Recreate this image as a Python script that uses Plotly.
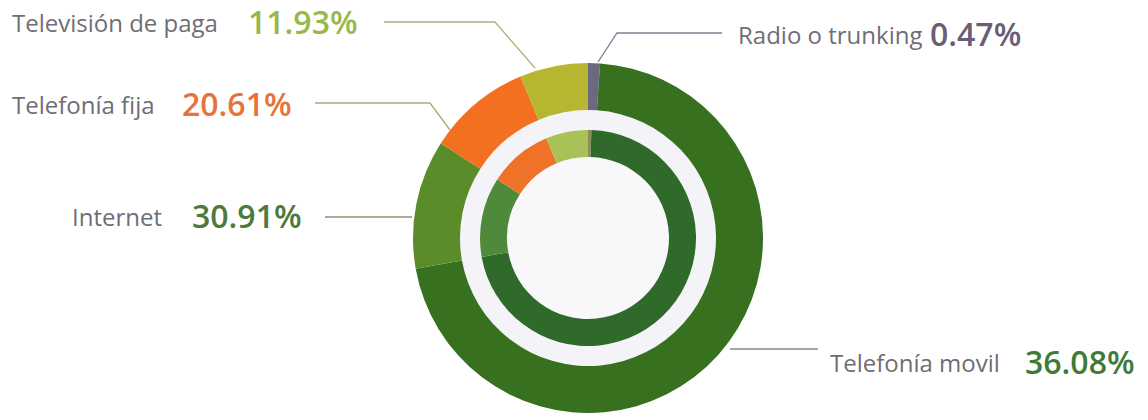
import plotly.graph_objects as go

# ---- data ----
categories = ["Radio o trunking", "Telefonía movil", "Internet", "Telefonía fija", "Televisión de paga"]
pct_labels = ["0.47%", "36.08%", "30.91%", "20.61%", "11.93%"]
# ring shares as drawn in the picture (clockwise from 12 o'clock)
outer_share = [1.1, 71.1, 11.9, 9.6, 6.3]
inner_share = [0.5, 71.7, 11.9, 9.6, 6.3]

outer_colors = ["#6c6880", "#37701f", "#5a8d2a", "#f2701f", "#b7b631"]
inner_colors = ["#8a8f5a", "#2f6a2a", "#4f8a3a", "#ee7228", "#a8c257"]
value_colors = ["#6a5d76", "#3f7a36", "#4d7a3c", "#e6733a", "#98b84c"]
line_colors = ["#7c7f90", "#7f8f7a", "#8b9270", "#9ab37a", "#a9b17f"]

W, H = 1148, 420
cx, cy = 588, 238
R_OUT, R_OUT_IN = 175, 128
R_IN, R_IN_IN = 108, 81


def px(x):
    return x / W


def py(y):
    return 1 - y / H


def dom(r):
    return dict(x=[px(cx - r), px(cx + r)], y=[py(cy + r), py(cy - r)])


fig = go.Figure()
# light gap ring between the two donuts and the pale centre
fig.add_trace(go.Pie(values=[1], labels=["gap"], marker=dict(colors=["#f4f3f8"]),
                     hole=R_IN / R_OUT_IN, domain=dom(R_OUT_IN), textinfo="none",
                     hoverinfo="skip", showlegend=False, sort=False))
fig.add_trace(go.Pie(values=[1], labels=["centre"], marker=dict(colors=["#f8f8fb"]),
                     hole=0, domain=dom(R_IN_IN), textinfo="none",
                     hoverinfo="skip", showlegend=False, sort=False))
fig.add_trace(go.Pie(values=outer_share, labels=categories,
                     marker=dict(colors=outer_colors, line=dict(width=0)),
                     hole=R_OUT_IN / R_OUT, domain=dom(R_OUT), sort=False,
                     direction="clockwise", rotation=0, textinfo="none",
                     showlegend=False))
fig.add_trace(go.Pie(values=inner_share, labels=categories,
                     marker=dict(colors=inner_colors, line=dict(width=0)),
                     hole=R_IN_IN / R_IN, domain=dom(R_IN), sort=False,
                     direction="clockwise", rotation=0, textinfo="none",
                     showlegend=False))

# label layout (pixel positions of the callouts)
name_pos = {  # name left x, value left x, row centre y
    "Televisión de paga": (10, 246, 22),
    "Telefonía fija": (10, 180, 104),
    "Internet": (70, 190, 216),
    "Radio o trunking": (736, 928, 34),
    "Telefonía movil": (828, 1023, 362),
}
leaders = {
    "Televisión de paga": [(384, 22), (495, 22), (535, 68)],
    "Telefonía fija": [(315, 103), (430, 103), (450, 130)],
    "Internet": [(325, 217), (412, 217)],
    "Radio o trunking": [(722, 33), (617, 33), (598, 62)],
    "Telefonía movil": [(818, 349), (730, 349)],
}

FONT = "Open Sans"
annotations = []
shapes = []
for i, cat in enumerate(categories):
    nx, vx, ry = name_pos[cat]
    annotations.append(dict(text=cat, x=px(nx), y=py(ry), xref="paper", yref="paper",
                            xanchor="left", yanchor="middle", showarrow=False, height=32,
                            font=dict(family=FONT, size=24, color="#6f6d76")))
    annotations.append(dict(text=pct_labels[i], x=px(vx), y=py(ry - 1),
                            xref="paper", yref="paper", xanchor="left", yanchor="middle",
                            showarrow=False, height=38,
                            font=dict(family=FONT, size=32, weight=600, color=value_colors[i])))
    pts = leaders[cat]
    path = "M " + " L ".join(f"{px(x)},{py(y)}" for x, y in pts)
    shapes.append(dict(type="path", path=path, xref="paper", yref="paper",
                       line=dict(color=line_colors[i], width=1.3)))

fig.update_layout(width=W, height=H, margin=dict(l=0, r=0, t=0, b=0),
                  paper_bgcolor="white", plot_bgcolor="white",
                  annotations=annotations, shapes=shapes, showlegend=False)

fig.write_html("out.html", config={"displayModeBar": False},
               post_script="document.body.style.margin='0px';")
